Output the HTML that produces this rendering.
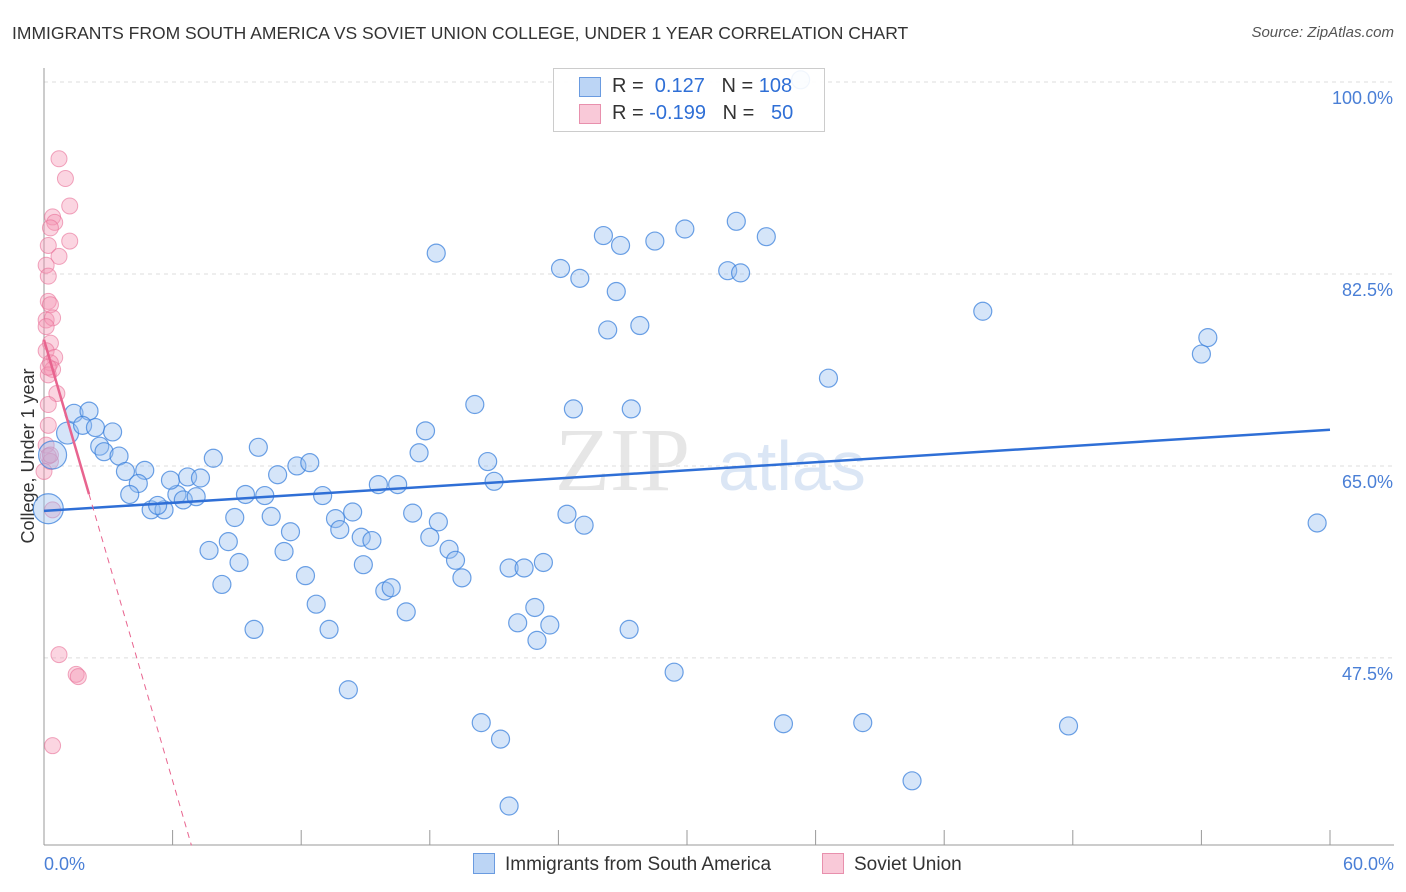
<!DOCTYPE html>
<html><head><meta charset="utf-8"><style>
body{margin:0;background:#fff;font-family:"Liberation Sans",sans-serif;}
#wrap{position:relative;width:1406px;height:892px;overflow:hidden;}
.t{position:absolute;white-space:nowrap;}
</style></head><body>
<div id="wrap">
<div class="t" style="left:12px;top:23px;font-size:17.5px;color:#333;">IMMIGRANTS FROM SOUTH AMERICA VS SOVIET UNION COLLEGE, UNDER 1 YEAR CORRELATION CHART</div>
<div class="t" style="right:12px;top:24px;font-size:15px;color:#555;font-style:italic;">Source: ZipAtlas.com</div>
<svg id="svg" width="1406" height="892" style="position:absolute;left:0;top:0"></svg>
</div>
<script>
const xTickLabels=["0.0%","60.0%"];
const yTicks=[100,82.5,65,47.5];
const blueX=[35.3,18.3,24.1,25.0,26.1,26.9,28.5,29.9,32.3,33.7,31.9,32.5,26.7,26.3,27.8,43.8,54.3,54.0,36.6,20.1,24.7,27.4,17.8,17.5,20.7,21.0,1.1,1.4,2.1,1.8,2.4,3.2,2.6,2.8,3.5,3.8,4.7,4.4,4.0,5.0,5.6,5.3,6.2,6.5,7.1,5.9,6.7,7.3,7.9,10.0,10.9,11.8,12.4,9.4,10.3,13.0,15.6,16.5,14.4,13.6,13.8,10.6,8.9,11.5,8.6,7.7,9.1,11.2,8.3,12.2,12.7,13.3,9.8,14.8,15.3,14.9,17.2,18.4,18.0,18.9,19.2,19.5,15.9,16.2,16.9,14.2,24.4,25.2,23.3,21.7,22.4,22.9,22.1,23.6,23.0,27.3,29.4,20.4,21.3,21.7,34.5,38.2,47.8,40.5,59.4,0.4,0.2];
const blueY=[100.2,84.4,83.0,82.1,86.0,85.1,85.5,86.6,87.3,85.9,82.8,82.6,80.9,77.4,77.8,79.1,76.7,75.2,73.0,70.6,70.2,70.2,68.2,66.2,65.4,63.6,68.0,69.8,70.0,68.7,68.5,68.1,66.8,66.3,65.9,64.5,64.6,63.4,62.4,61.0,61.0,61.4,62.4,61.9,62.2,63.7,64.0,63.9,65.7,66.7,64.2,65.0,65.3,62.4,62.3,62.3,63.3,63.3,60.8,60.2,59.2,60.4,60.3,59.0,58.1,57.3,56.2,57.2,54.2,55.0,52.4,50.1,50.1,58.5,58.2,56.0,60.7,59.9,58.5,57.4,56.4,54.8,53.6,53.9,51.7,44.6,60.6,59.6,56.2,55.7,55.7,52.1,50.7,50.5,49.1,50.1,46.2,41.6,40.1,34.0,41.5,41.6,41.3,36.3,59.8,66.0,61.1];
const blueR=[9,9,9,9,9,9,9,9,9,9,9,9,9,9,9,9,9,9,9,9,9,9,9,9,9,9,11,9,9,9,9,9,9,9,9,9,9,9,9,9,9,9,9,9,9,9,9,9,9,9,9,9,9,9,9,9,9,9,9,9,9,9,9,9,9,9,9,9,9,9,9,9,9,9,9,9,9,9,9,9,9,9,9,9,9,9,9,9,9,9,9,9,9,9,9,9,9,9,9,9,9,9,9,9,9,14,15];
const pinkX=[0.7,1.0,1.2,0.4,0.5,0.3,1.2,0.2,0.7,0.1,0.2,0.2,0.3,0.1,0.4,0.1,0.3,0.1,0.5,0.3,0.4,0.2,0.6,0.2,0.2,0.1,0.2,0.3,0.0,0.4,0.7,1.5,1.6,0.4,0.2,0.3];
const pinkY=[93.0,91.2,88.7,87.7,87.2,86.7,85.5,85.1,84.1,83.3,82.3,80.0,79.7,78.3,78.5,77.7,76.2,75.5,74.9,74.4,73.8,73.3,71.6,70.6,68.7,66.9,65.9,65.4,64.5,61.0,47.8,46.0,45.8,39.5,74.0,66.0];
const blueTrend=[60.9,68.3];
const pinkTrend=[76.5,-6.7];
const X0=44,X1=1330,YTOP=82,YB=845;
const sx=v=>X0+v*(X1-X0)/60;
const sy=v=>YTOP+(100-v)*10.97;
const svg=document.getElementById('svg');const NS='http://www.w3.org/2000/svg';
function mk(tag,attrs,parent){const e=document.createElementNS(NS,tag);for(const k in attrs)e.setAttribute(k,attrs[k]);(parent||svg).appendChild(e);return e;}
let wm=mk('text',{x:555,y:490,'font-size':90,fill:'#e6e6e6','font-family':'Liberation Serif, serif'});wm.textContent='ZIP';

let wm2=mk('text',{x:718,y:490,'font-size':70,fill:'#dbe6f5','font-family':'Liberation Sans, sans-serif'});wm2.textContent='atlas';

yTicks.forEach(v=>{const g=mk('line',{x1:X0,x2:1394,y1:sy(v),y2:sy(v),stroke:'#ddd','stroke-dasharray':'4,4'});

const t=mk('text',{x:1393,y:sy(v)+22,'text-anchor':'end','font-size':18,fill:'#4a7fd6'});t.textContent=v.toFixed(1)+'%';
});
let ax=mk('line',{x1:X0,x2:X0,y1:68,y2:YB,stroke:'#999'});
let bx=mk('line',{x1:X0,x2:1394,y1:YB,y2:YB,stroke:'#999'});
for(let i=0;i<=10;i++){const tk=mk('line',{x1:sx(i*6),x2:sx(i*6),y1:YB,y2:YB-15,stroke:'#999'});}
[[0,'start',44],[60,'end',1394]].forEach((a,i)=>{const t=mk('text',{x:a[2],y:870,'text-anchor':a[1],'font-size':18,fill:'#4a7fd6'});t.textContent=xTickLabels[i];});
let yt=mk('text',{x:34,y:456,'text-anchor':'middle','font-size':18,fill:'#333',transform:'rotate(-90 34 456)'});yt.textContent='College, Under 1 year';

pinkX.forEach((x,i)=>{const c=mk('circle',{cx:sx(x),cy:sy(pinkY[i]),r:8,fill:'rgba(244,150,180,0.4)',stroke:'rgba(232,110,150,0.6)','stroke-width':1});
});
blueX.forEach((x,i)=>{const c=mk('circle',{cx:sx(x),cy:sy(blueY[i]),r:blueR[i],fill:'rgba(150,190,240,0.4)',stroke:'rgba(60,130,220,0.75)','stroke-width':1.2});
});
let bl=mk('line',{x1:sx(0),y1:sy(blueTrend[0]),x2:sx(60),y2:sy(blueTrend[1]),stroke:'#2f6fd6','stroke-width':2.5});

const pEnd=(30.4-pinkTrend[0])/pinkTrend[1];
let pd=mk('line',{x1:sx(2.1),y1:sy(pinkTrend[0]+pinkTrend[1]*2.1),x2:sx(pEnd),y2:sy(30.4),stroke:'#e8648f','stroke-width':1,'stroke-dasharray':'6,5'});

let ps=mk('line',{x1:sx(0),y1:sy(pinkTrend[0]),x2:sx(2.1),y2:sy(pinkTrend[0]+pinkTrend[1]*2.1),stroke:'#e8648f','stroke-width':2.5});

</script>
<div class="t" style="left:553px;top:68px;width:270px;height:62px;border:1px solid #ccc;background:rgba(255,255,255,0.9);font-size:20px;">
 <div style="position:absolute;left:25px;top:8px;width:20px;height:18px;background:#bcd5f5;border:1px solid #6a9be0"></div>
 <div style="position:absolute;left:58px;top:6px;color:#333">R = <span style="color:#2f6fd6">&nbsp;0.127</span>&nbsp;&nbsp;&nbsp;N = <span style="color:#2f6fd6">108</span></div>
 <div style="position:absolute;left:25px;top:35px;width:20px;height:18px;background:#f9c9d8;border:1px solid #e890ad"></div>
 <div style="position:absolute;left:58px;top:33px;color:#333">R = <span style="color:#2f6fd6">-0.199</span>&nbsp;&nbsp;&nbsp;N = <span style="color:#2f6fd6">&nbsp;&nbsp;50</span></div>
</div>
<div class="t" style="left:473px;top:853px;font-size:19px;color:#333;"><span style="display:inline-block;width:20px;height:19px;background:#bcd5f5;border:1px solid #6a9be0;vertical-align:-4px;margin-right:10px"></span>Immigrants from South America</div>
<div class="t" style="left:822px;top:853px;font-size:19px;color:#333;"><span style="display:inline-block;width:20px;height:19px;background:#f9c9d8;border:1px solid #e890ad;vertical-align:-4px;margin-right:10px"></span>Soviet Union</div>
</body></html>
